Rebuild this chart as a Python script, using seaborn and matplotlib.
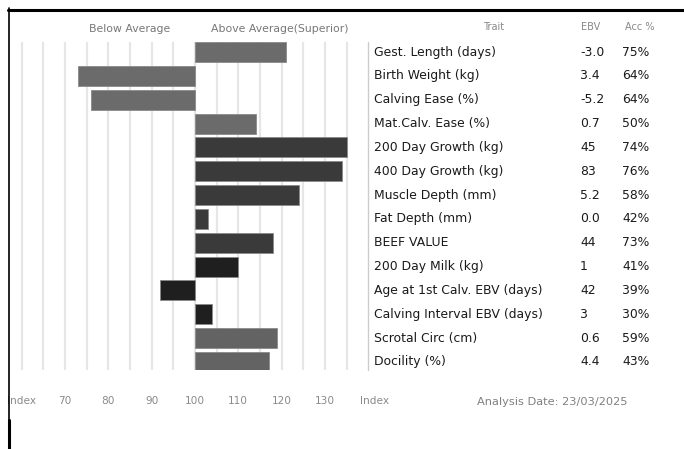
import matplotlib
matplotlib.use("Agg")
import matplotlib.pyplot as plt
import matplotlib.transforms as mtransforms
from matplotlib.lines import Line2D
import seaborn as sns
import pandas as pd

traits = ["Gest. Length (days)", "Birth Weight (kg)", "Calving Ease (%)", "Mat.Calv. Ease (%)",
          "200 Day Growth (kg)", "400 Day Growth (kg)", "Muscle Depth (mm)", "Fat Depth (mm)",
          "BEEF VALUE", "200 Day Milk (kg)", "Age at 1st Calv. EBV (days)",
          "Calving Interval EBV (days)", "Scrotal Circ (cm)", "Docility (%)"]
index_values = [121, 73, 76, 114, 135, 134, 124, 103, 118, 110, 92, 104, 119, 117]
ebv = ["-3.0", "3.4", "-5.2", "0.7", "45", "83", "5.2", "0.0", "44", "1", "42", "3", "0.6", "4.4"]
acc = ["75%", "64%", "64%", "50%", "74%", "76%", "58%", "42%", "73%", "41%", "39%", "30%", "59%", "43%"]
bar_colors = ["#6b6b6b"] * 4 + ["#3a3a3a"] * 5 + ["#1f1f1f"] * 3 + ["#636363"] * 2
tick_values = [60, 70, 80, 90, 100, 110, 120, 130, 141.5]
tick_labels = ["Index", "70", "80", "90", "100", "110", "120", "130", "Index"]
grid_values = list(range(60, 140, 5))
BASE = 100

sns.set_theme(style="white")
plt.rcParams["font.family"] = ["DejaVu Sans"]

W, H = 684, 449
fig = plt.figure(figsize=(W / 100, H / 100), dpi=100)

# axes: x pixels 8..380, y pixels 42..370
ax = fig.add_axes([8 / W, (H - 370) / H, 372 / W, 328 / H])

df = pd.DataFrame({"trait": traits, "dev": [v - BASE for v in index_values]})
sns.barplot(data=df, x="dev", y="trait", hue="trait", palette=bar_colors,
            legend=False, width=0.84, orient="h", ax=ax,
            edgecolor="#8a8a8a", linewidth=0.6, zorder=3)

ax.set_xlim(56.85 - BASE, 142.7 - BASE)
ax.set_ylim(13.34, -0.42)
for g in grid_values:
    ax.axvline(g - BASE, color="#e6e6e6", lw=1.6, zorder=1)

ax.set_xticks([t - BASE for t in tick_values])
ax.set_xticklabels(tick_labels, fontsize=7.6, color="#8a8a8a")
ax.tick_params(axis="x", length=0, pad=19)
ax.set_yticks([])
ax.set_xlabel("")
ax.set_ylabel("")
for s in ax.spines.values():
    s.set_visible(False)

# table text
tr = mtransforms.blended_transform_factory(fig.transFigure, ax.transData)
tf = "DejaVu Sans"
fs = 8.9
for i, (t, e, a) in enumerate(zip(traits, ebv, acc)):
    fig.text(374 / W, i, t, transform=tr, fontsize=fs, family=tf, color="#1a1a1a", va="center", ha="left")
    fig.text(580 / W, i, e, transform=tr, fontsize=fs, family=tf, color="#1a1a1a", va="center", ha="left")
    fig.text(622 / W, i, a, transform=tr, fontsize=fs, family=tf, color="#1a1a1a", va="center", ha="left")

# headers
hy = (H - 29) / H
fig.text(130 / W, hy, "Below Average", fontsize=7.8, color="#777777", ha="center", va="center")
fig.text(280 / W, hy, "Above Average(Superior)", fontsize=7.8, color="#777777", ha="center", va="center")
ty = (H - 27) / H
fig.text(494 / W, ty, "Trait", fontsize=7, color="#888888", ha="center", va="center")
fig.text(591 / W, ty, "EBV", fontsize=7, color="#888888", ha="center", va="center")
fig.text(640 / W, ty, "Acc %", fontsize=7, color="#888888", ha="center", va="center")
fig.text(552 / W, (H - 402) / H, "Analysis Date: 23/03/2025", fontsize=8.2, color="#808080", ha="center", va="center")

# separator line before table
fig.add_artist(Line2D([368 / W, 368 / W], [(H - 370) / H, (H - 42) / H], color="#cccccc", lw=1))

# frame lines
fig.add_artist(Line2D([8 / W, 1.0], [(H - 9.5) / H, (H - 9.5) / H], color="black", lw=2.2))
fig.add_artist(Line2D([8.5 / W, 8.5 / W], [(H - 420) / H, (H - 8) / H], color="black", lw=1.2))
fig.add_artist(Line2D([9 / W, 9 / W], [0, (H - 420) / H], color="black", lw=2.2))

fig.savefig("out.png", dpi=100)
